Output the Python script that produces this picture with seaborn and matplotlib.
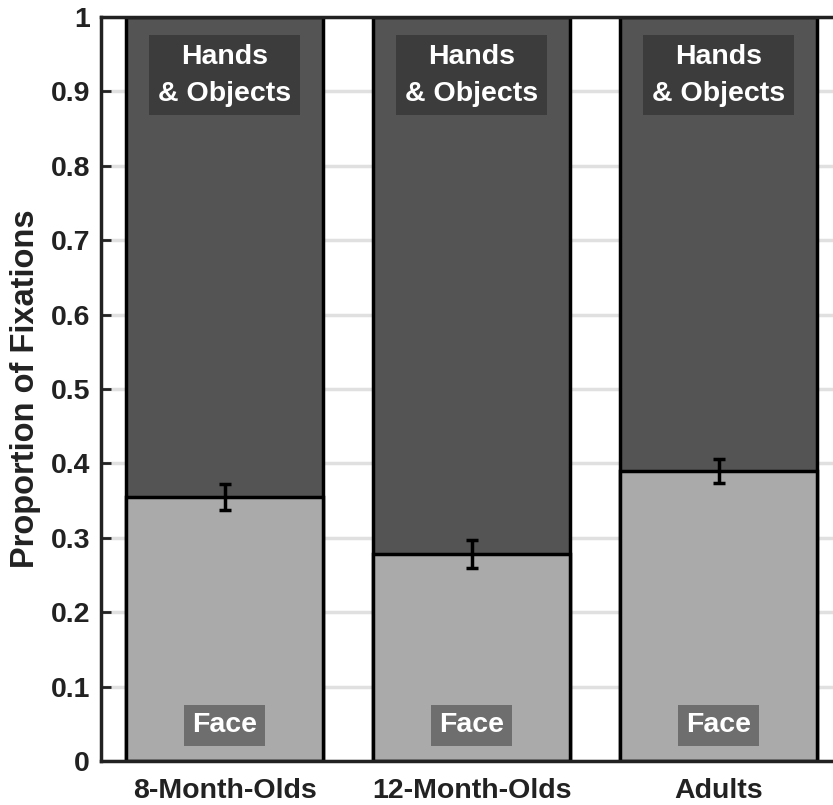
import numpy as np
import pandas as pd
import matplotlib
matplotlib.use('Agg')
import matplotlib.pyplot as plt
import seaborn as sns

## ============================

groups = ['8-Month-Olds', '12-Month-Olds', 'Adults']
face = [0.355, 0.278, 0.390]
face_err = [0.017, 0.019, 0.016]
hands = [0.645, 0.722, 0.610]
yticks = [0, 0.1, 0.2, 0.3, 0.4, 0.5, 0.6, 0.7, 0.8, 0.9, 1]
ytick_labels = ['0', '0.1', '0.2', '0.3', '0.4', '0.5', '0.6', '0.7', '0.8', '0.9', '1']

df = pd.DataFrame({'group': groups, 'face': face, 'err': face_err, 'hands': hands})
df['total'] = df['face'] + df['hands']

## ============================

sns.set_style('white')
plt.rcParams['font.family'] = ['Liberation Sans', 'DejaVu Sans']
plt.rcParams['font.weight'] = 'bold'
plt.rcParams['text.color'] = '#222222'
plt.rcParams['xtick.color'] = '#222222'
plt.rcParams['ytick.color'] = '#222222'
plt.rcParams['axes.labelcolor'] = '#222222'

dark = '#545454'
light = '#aaaaaa'
fs = 20.5

fig = plt.figure(figsize=(8.33, 8.05), dpi=100)
ax = fig.add_axes([101/833, 44/805, 741/833, 744/805])

for y in yticks:
	ax.axhline(y, color='#e0e0e0', lw=2.5, zorder=0)

sns.barplot(ax=ax, data=df, x='group', y='total', color=dark, saturation=1,
		width=0.8, edgecolor='black', linewidth=2.5, zorder=2)
sns.barplot(ax=ax, data=df, x='group', y='face', color=light, saturation=1,
		width=0.8, edgecolor='black', linewidth=2.5, zorder=3)
ax.errorbar(np.arange(len(groups)), df['face'], yerr=df['err'], fmt='none',
		ecolor='black', elinewidth=2.5, capsize=4.5, capthick=2.5, zorder=4)

for i in range(len(groups)):
	ax.text(i, 0.922, 'Hands\n& Objects', ha='center', va='center', color='white',
			fontsize=fs, fontweight='bold', linespacing=1.55, zorder=5,
			bbox=dict(boxstyle='square,pad=0.3', facecolor='#3c3c3c', edgecolor='none'))
	ax.text(i, 0.048, 'Face', ha='center', va='center', color='white',
			fontsize=fs, fontweight='bold', zorder=5,
			bbox=dict(boxstyle='square,pad=0.27', facecolor='#6e6e6e', edgecolor='none'))

ax.set_xlim(-0.5, 2.5)
ax.set_ylim(0, 1)
ax.set_yticks(yticks)
ax.set_yticklabels(ytick_labels)
ax.set_xlabel('')
ax.set_ylabel('Proportion of Fixations', fontsize=23.5, fontweight='bold', labelpad=7)
ax.tick_params(axis='y', direction='in', length=7, width=2, pad=8, labelsize=fs, left=True)
ax.tick_params(axis='x', length=0, pad=12, labelsize=fs)
for s in ax.spines.values():
	s.set_linewidth(2.5)
	s.set_color('#222222')
	s.set_zorder(6)

fig.savefig('out.png', dpi=100)
